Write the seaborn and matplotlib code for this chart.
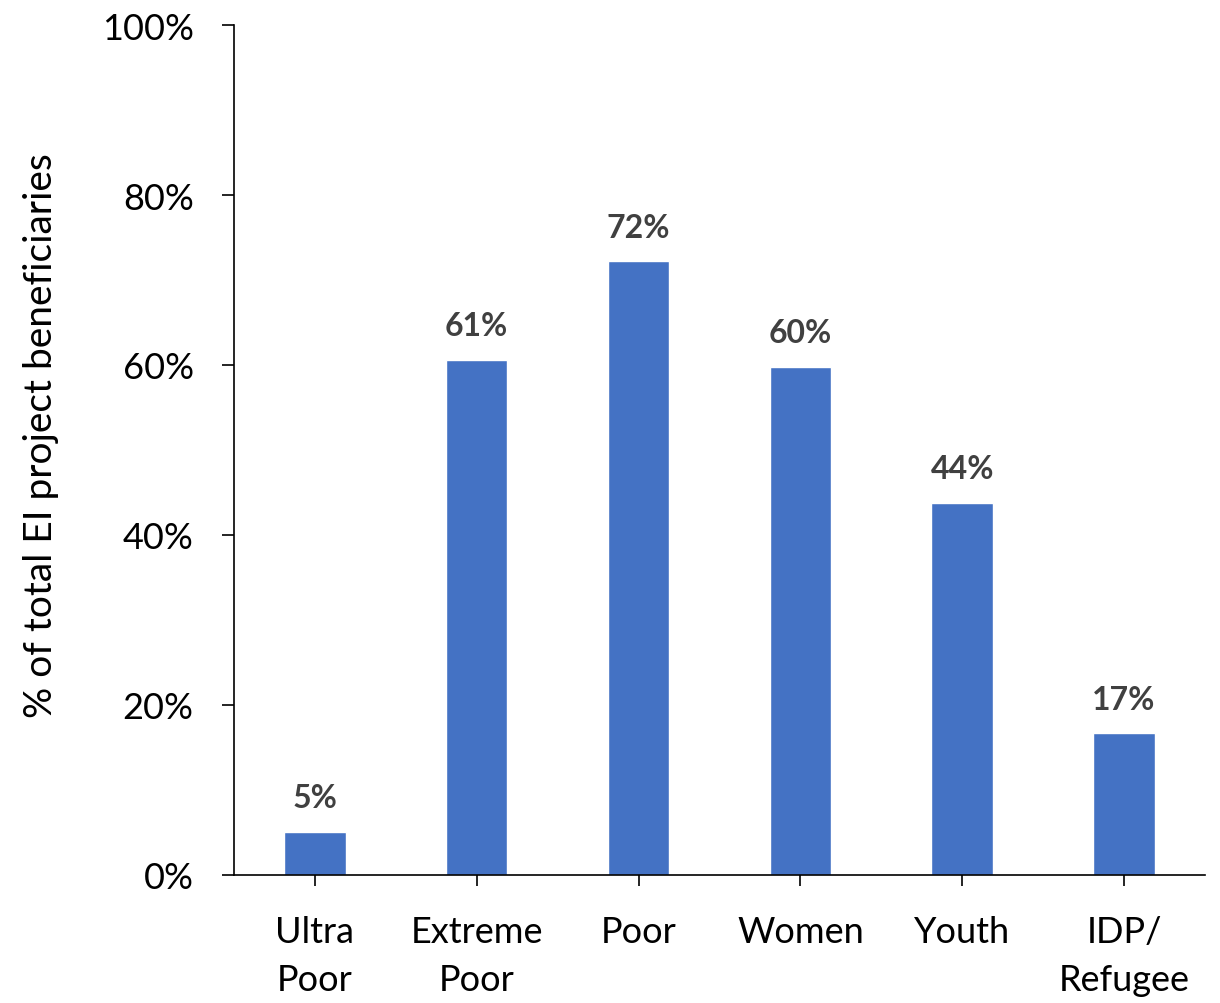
import matplotlib
matplotlib.use("Agg")
import matplotlib.pyplot as plt
import seaborn as sns
import pandas as pd
from matplotlib.ticker import PercentFormatter

# Share of total EI project beneficiaries by group (%)
categories = ["Ultra\nPoor", "Extreme\nPoor", "Poor", "Women", "Youth", "IDP/\nRefugee"]
shares = [5.1, 60.6, 72.2, 59.8, 43.8, 16.7]
y_ticks = [0, 20, 40, 60, 80, 100]

sns.set_theme(style="white")
plt.rcParams["font.family"] = ["Lato", "DejaVu Sans"]

df = pd.DataFrame({"group": categories, "share": shares})

fig = plt.figure(figsize=(12.2, 10.04), dpi=100)
ax = fig.add_axes([0.1918, 0.1275, 0.7959, 0.8466])

sns.barplot(data=df, x="group", y="share", color="#4472C4", width=0.38,
            saturation=1, ax=ax)

ax.bar_label(ax.containers[0], labels=[f"{v:.0f}%" for v in shares],
             padding=14, fontsize=23, fontweight="bold", color="#404040")

ax.set_ylim(0, 100)
ax.set_xlim(-0.5, 5.5)
ax.set_yticks(y_ticks)
ax.yaxis.set_major_formatter(PercentFormatter(100, decimals=0))

ax.set_xlabel("")
ax.set_ylabel("% of total EI project beneficiaries", fontsize=28, color="black")
ax.yaxis.set_label_coords(-0.18, 0.518)

for side in ["top", "right"]:
    ax.spines[side].set_visible(False)
for side in ["left", "bottom"]:
    ax.spines[side].set_color("black")
    ax.spines[side].set_linewidth(1.2)

ax.tick_params(axis="y", which="major", direction="out", length=9, width=1.2,
               color="black", left=True, labelsize=26, labelcolor="black", pad=20)
ax.tick_params(axis="x", which="major", direction="out", length=8, width=1.2,
               color="black", bottom=True, labelsize=26, labelcolor="black", pad=21)
for lbl in ax.get_xticklabels():
    lbl.set_linespacing(1.55)

fig.savefig("out.png", dpi=100)
